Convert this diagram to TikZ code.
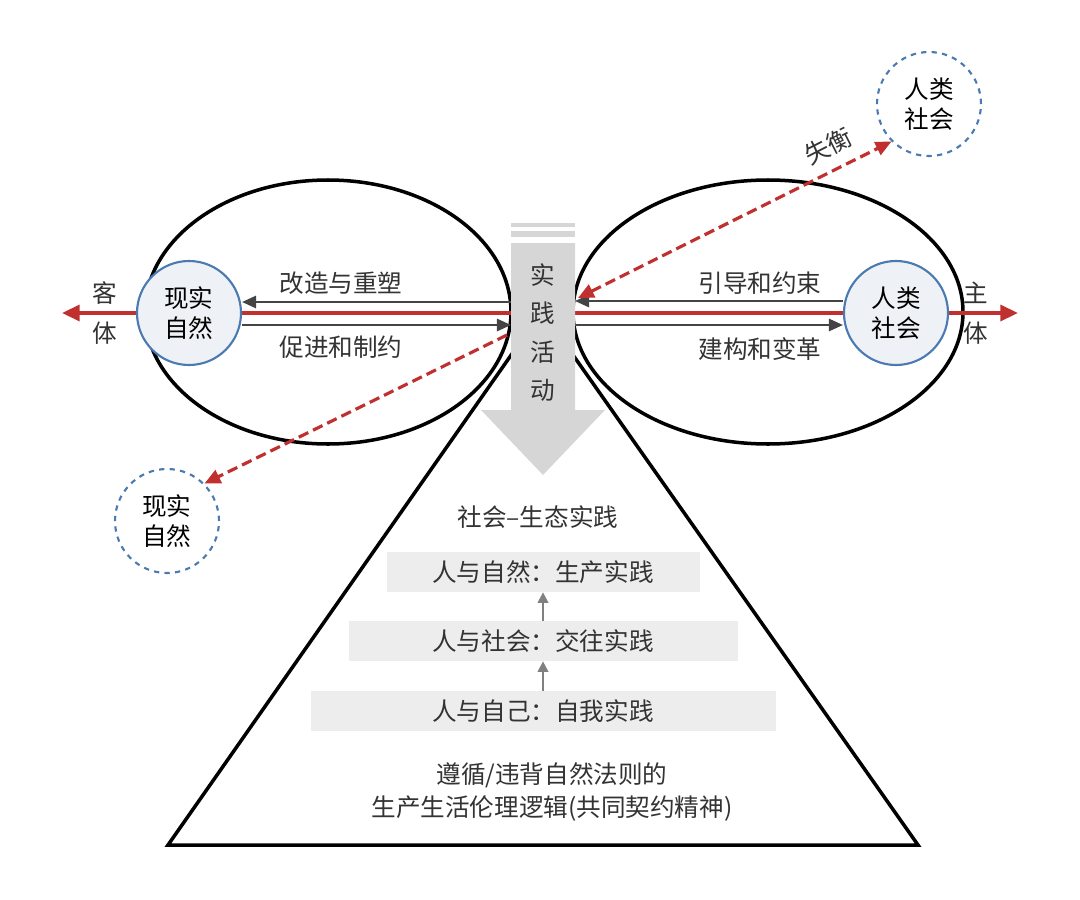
\documentclass[tikz,border=0pt]{standalone}
\usepackage{fontspec}
\setmainfont{Noto Sans CJK SC}
\usetikzlibrary{arrows.meta}
\definecolor{redl}{HTML}{C0302E}
\definecolor{cblue}{HTML}{4A7AB0}
\definecolor{cfill}{HTML}{EEF1F5}
\definecolor{dgray}{HTML}{444444}
\definecolor{agray}{HTML}{D6D6D6}
\definecolor{bgray}{HTML}{EDEDED}
\begin{document}
\begin{tikzpicture}[x=0.02cm,y=-0.02cm,
  txt/.style={font=\fontsize{14pt}{17pt}\selectfont,text=black!80},
  circ/.style={circle,draw=cblue,line width=1.2pt,fill=cfill,minimum size=104*0.02cm,align=center,inner sep=0pt,font=\fontsize{14pt}{17pt}\selectfont},
  dcirc/.style={circ,dashed,fill=white},
  glink/.style={draw=dgray,line width=1.2pt,-{Triangle[length=8pt,width=7pt]}},
  rlink/.style={draw=redl,line width=2pt},
  dlink/.style={draw=redl,line width=1.8pt,dash pattern=on 6pt off 3pt,-{Triangle[length=9pt,width=8pt]}},
  pbox/.style={fill=bgray,draw=none,minimum height=40*0.02cm,font=\fontsize{14pt}{17pt}\selectfont,text=black!80}]
\useasboundingbox (0,0) rectangle (1080,900);
% triangle
\draw[line width=2pt] (542,311) -- (168,845) -- (918,845) -- cycle;
% ellipses
\draw[line width=2pt] (328,312) ellipse [x radius=183*0.02cm, y radius=132*0.02cm];
\draw[line width=2pt] (768,312) ellipse [x radius=195*0.02cm, y radius=132*0.02cm];
% red axis
\coordinate (lt) at (62,313);
\coordinate (rt) at (1018,313);
\draw[rlink,-{Triangle[length=10pt,width=9pt]}] (511,313) -- (lt);
\draw[rlink,-{Triangle[length=10pt,width=9pt]}] (575,313) -- (rt);
% circles
\node[circ] (nat) at (189,313) {现实\\自然};
\node[circ] (soc) at (896,313) {人类\\社会};
\node[dcirc] (soc2) at (929,104) {人类\\社会};
\node[dcirc] (nat2) at (167,521) {现实\\自然};
% gray links
\coordinate (la) at (511,302); \coordinate (lb) at (511,325);
\coordinate (ra) at (575,301); \coordinate (rb) at (575,325);
\draw[glink] (la) -- (nat.east |- la);
\draw[glink] (nat.east |- lb) -- (lb);
\draw[glink] (soc.west |- ra) -- (ra);
\draw[glink] (rb) -- (soc.west |- rb);
\node[txt] (t1) at (341,283) {改造与重塑};
\node[txt] (t2) at (341,347) {促进和制约};
\node[txt] (t3) at (760,283) {引导和约束};
\node[txt] (t4) at (760,349) {建构和变革};
\node[txt] (k1) at (105,293) {客};
\node[txt] (k2) at (105,333) {体};
\node[txt] (z1) at (976,293) {主};
\node[txt] (z2) at (976,333) {体};
% dashed
\coordinate (dA) at (578,298);
\coordinate (dB) at (507,335);
\draw[dlink,{Triangle[length=9pt,width=8pt]}-{Triangle[length=9pt,width=8pt]}] (dA) -- (soc2.south west);
\draw[dlink] (dB) -- (nat2.north east);
\node[txt,rotate=27] (sh) at (828,146) {失衡};
% central arrow
\fill[agray] (511,223) rectangle (575,227);
\fill[agray] (511,231) rectangle (575,237);
\fill[agray] (511,243) -- (575,243) -- (575,410) -- (605,410) -- (543,475) -- (481,410) -- (511,410) -- cycle;
\node[txt] (s1) at (543,275) {实};
\node[txt] (s2) at (543,313) {践};
\node[txt] (s3) at (543,352) {活};
\node[txt] (s4) at (543,390) {动};
% pyramid content
\node[txt] (p0) at (538,517) {社会–生态实践};
\node[pbox,minimum width=313*0.02cm] (b1) at (543,572) {人与自然：生产实践};
\node[pbox,minimum width=389*0.02cm] (b2) at (543,641) {人与社会：交往实践};
\node[pbox,minimum width=465*0.02cm] (b3) at (543,711) {人与自己：自我实践};
\draw[draw=gray,line width=1.2pt,-{Triangle[length=6pt,width=6pt]}] (b2.north) -- (b1.south);
\draw[draw=gray,line width=1.2pt,-{Triangle[length=6pt,width=6pt]}] (b3.north) -- (b2.south);
\node[txt,align=center,font=\fontsize{14pt}{19pt}\selectfont] (bt) at (552,792) {遵循/违背自然法则的\\生产生活伦理逻辑(共同契约精神)};
\end{tikzpicture}
\end{document}
